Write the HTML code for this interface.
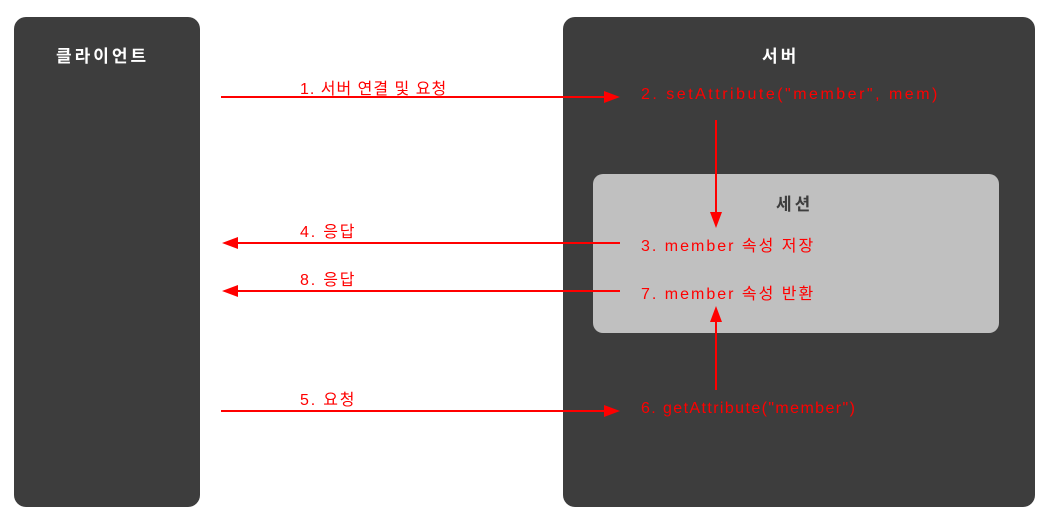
<!DOCTYPE html>
<html><head><meta charset="utf-8"><style>
body{margin:0;width:1045px;height:516px;background:#fff;position:relative;overflow:hidden;font-family:"Liberation Sans","Noto Sans CJK KR",sans-serif}
.box{position:absolute;background:#3d3d3d;border-radius:12px}
.t{position:absolute;font-size:16px;white-space:nowrap;letter-spacing:1.8px}
.w{color:#fff;font-weight:bold;font-size:17px;letter-spacing:3px}
.r{color:#f00}
</style></head><body>
<div class="box" style="left:14px;top:17px;width:186px;height:490px"></div>
<div class="box" style="left:563px;top:17px;width:472px;height:490px"></div>
<div style="position:absolute;left:593px;top:174px;width:406px;height:159px;background:#c0c0c0;border-radius:10px"></div>
<div class="t w" style="left:56px;top:42px">클라이언트</div>
<div class="t w" style="left:762px;top:42px">서버</div>
<div class="t w" style="left:776px;top:190px;color:#3d3d3d">세션</div>
<div class="t r" style="left:300px;top:75px;letter-spacing:1px">1. 서버 연결 및 요청</div>
<div class="t r" style="left:641px;top:86px;letter-spacing:2.5px">2. setAttribute("member", mem)</div>
<div class="t r" style="left:300px;top:218px">4. 응답</div>
<div class="t r" style="left:641px;top:232px;letter-spacing:2px">3. member 속성 저장</div>
<div class="t r" style="left:300px;top:266px">8. 응답</div>
<div class="t r" style="left:641px;top:280px;letter-spacing:2px">7. member 속성 반환</div>
<div class="t r" style="left:300px;top:386px">5. 요청</div>
<div class="t r" style="left:641px;top:400px;letter-spacing:1.4px">6. getAttribute("member")</div>
<svg width="1045" height="516" style="position:absolute;left:0;top:0">
<g stroke="#f00" stroke-width="2" fill="#f00">
<line x1="221" y1="97" x2="608" y2="97"/><polygon points="620,97 604,91 604,103" stroke="none"/>
<line x1="620" y1="243" x2="234" y2="243"/><polygon points="222,243 238,237 238,249" stroke="none"/>
<line x1="620" y1="291" x2="234" y2="291"/><polygon points="222,291 238,285 238,297" stroke="none"/>
<line x1="221" y1="411" x2="608" y2="411"/><polygon points="620,411 604,405 604,417" stroke="none"/>
<line x1="716" y1="120" x2="716" y2="216"/><polygon points="716,228 710,212 722,212" stroke="none"/>
<line x1="716" y1="390" x2="716" y2="318"/><polygon points="716,306 710,322 722,322" stroke="none"/>
</g></svg>
</body></html>
